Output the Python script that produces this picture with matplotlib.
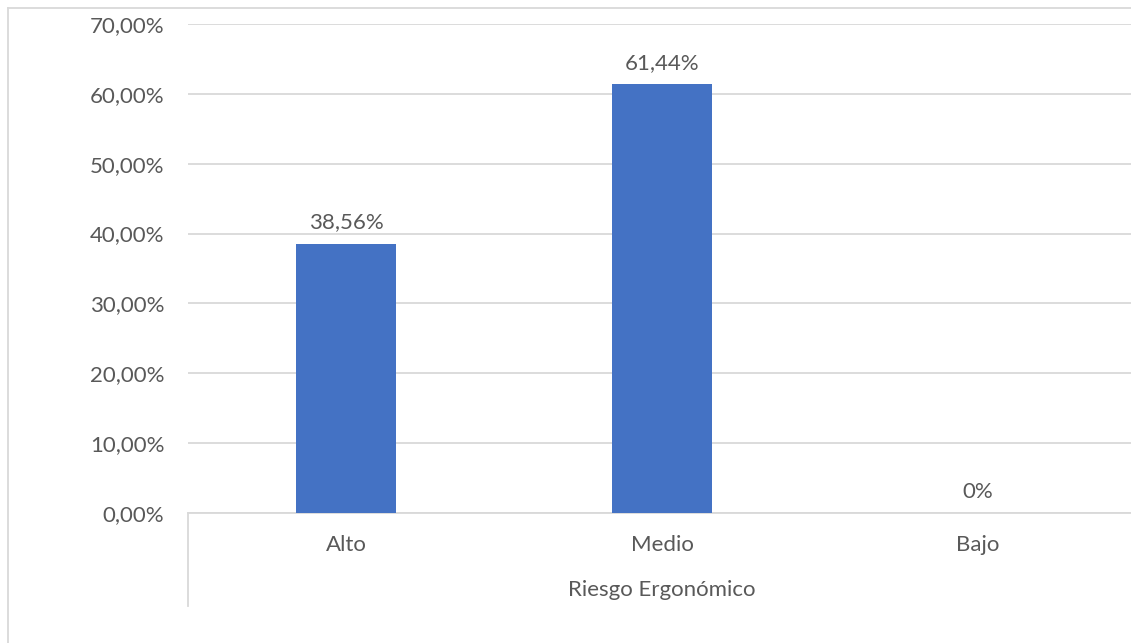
import matplotlib.pyplot as plt
from matplotlib.lines import Line2D

categorias = ['Alto', 'Medio', 'Bajo']
valores = [38.56, 61.44, 0.0]
etiquetas = ['38,56%', '61,44%', '0%']
ticks = [0, 10, 20, 30, 40, 50, 60, 70]
tick_labels = ['0,00%', '10,00%', '20,00%', '30,00%', '40,00%', '50,00%', '60,00%', '70,00%']

plt.rcParams['font.family'] = ['Lato', 'DejaVu Sans']
gris = '#595959'
linea = '#d9d9d9'
fs = 16

W, H = 1131, 643
fig = plt.figure(figsize=(W / 100, H / 100), dpi=100)
ax = fig.add_axes([188 / W, 1 - 513 / H, 948 / W, 489 / H])

x = list(range(len(categorias)))
ax.bar(x, valores, width=0.316, color='#4472C4', zorder=3)
for xi, v, t in zip(x, valores, etiquetas):
    ax.text(xi, v + 1.6, t, ha='center', va='bottom', fontsize=fs, color=gris)

ax.set_xlim(-0.5, 2.5)
ax.set_ylim(0, 70)
ax.set_yticks(ticks)
ax.set_yticklabels(tick_labels, fontsize=fs, color=gris)
ax.set_xticks(x)
ax.set_xticklabels(categorias, fontsize=fs, color=gris)
ax.tick_params(axis='both', length=0)
ax.tick_params(axis='y', pad=17)
ax.tick_params(axis='x', pad=16)
ax.grid(axis='y', color=linea, linewidth=1.3, zorder=0)
for s in ['top', 'right', 'left']:
    ax.spines[s].set_visible(False)
ax.spines['bottom'].set_color(linea)
ax.spines['bottom'].set_linewidth(1.3)

# titulo del eje de categorias
fig.text((188 + 1136) / 2 / W, 1 - 590 / H, 'Riesgo Ergonómico', ha='center', va='center',
         fontsize=fs, color=gris)

# linea vertical de separacion bajo el eje
fig.add_artist(Line2D([188 / W, 188 / W], [1 - 513 / H, 1 - 606 / H], color=linea, linewidth=1.3))

# borde exterior del grafico
fig.add_artist(Line2D([8 / W, 8 / W], [1 - 8 / H, 0], color=linea, linewidth=1.3))
fig.add_artist(Line2D([8 / W, 1], [1 - 8 / H, 1 - 8 / H], color=linea, linewidth=1.3))

fig.savefig('out.png', dpi=100)
